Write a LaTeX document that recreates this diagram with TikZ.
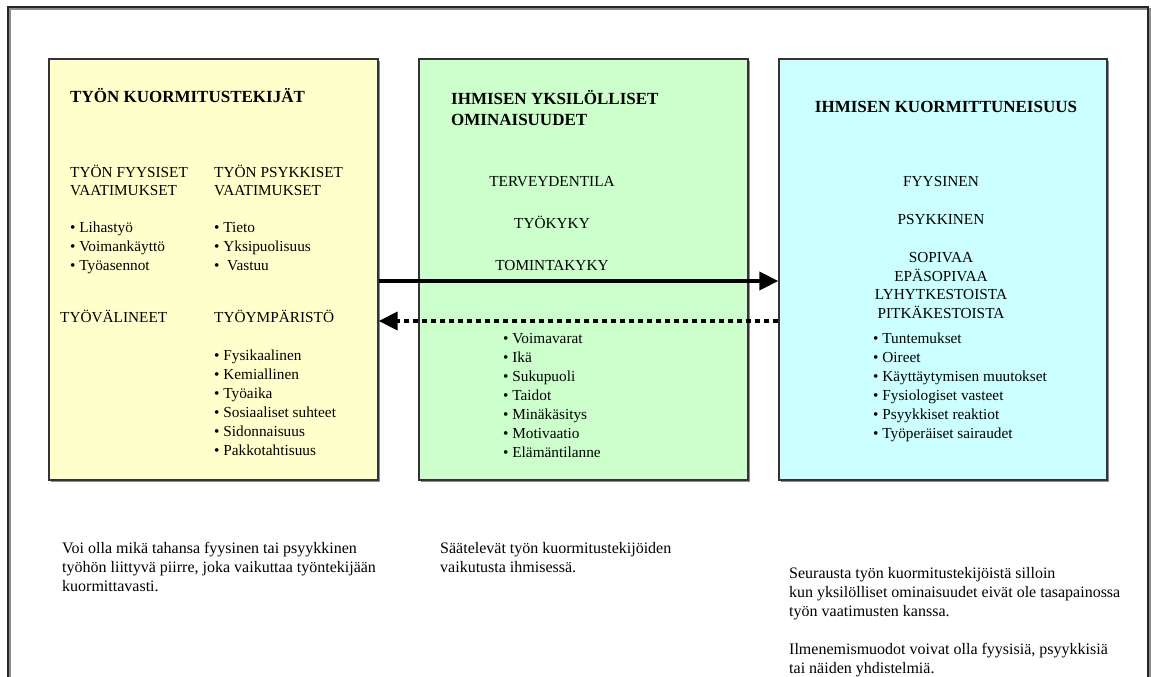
\documentclass[tikz,border=0pt]{standalone}
\usepackage{fontspec}
\setmainfont{Liberation Serif}
\usetikzlibrary{arrows.meta,shadows}

\definecolor{keltainen}{HTML}{FFFFCC}
\definecolor{vihrea}{HTML}{CCFFCC}
\definecolor{syaani}{HTML}{CCFFFF}

\begin{document}
\begin{tikzpicture}[x=1pt,y=-1pt,
    box/.style={draw=black!80, line width=1.3pt, inner sep=0pt,
        minimum width=329pt, minimum height=421pt,
        drop shadow={shadow xshift=1.8pt, shadow yshift=-1.8pt, fill=black!45, opacity=1}},
    otsikko/.style={font=\fontsize{17}{20}\selectfont\bfseries, inner sep=0pt, anchor=base west},
    teksti/.style={font=\fontsize{15.3}{18}\selectfont, inner sep=0pt, anchor=base west},
    keski/.style={teksti, anchor=base},
    selite/.style={font=\fontsize{16}{19}\selectfont, inner sep=0pt, anchor=base west},
    nuoli/.style={line width=3.5pt, -{Triangle[length=19pt,width=18pt]}}
]
\useasboundingbox (0,0) rectangle (1151,677);

% Frame
\draw[black!45, line width=1.5pt] (9.8,677) |- (1149.8,8.8) -- (1149.8,677);
\draw[black!85, line width=1.5pt] (8,677) |- (1148,7) -- (1148,677);

% Boxes
\node[box, fill=keltainen] (kuormitus) at (213.5,269.5) {};
\node[box, fill=vihrea] (yksilo) at (583.5,269.5) {};
\node[box, fill=syaani, minimum width=328pt] (kuormittuneisuus) at (943,269.5) {};

% Tyon kuormitustekijat
\node[otsikko] (kuorm-otsikko) at (70,102) {TYÖN KUORMITUSTEKIJÄT};
\node[teksti] (fyys-1) at (70,177) {TYÖN FYYSISET};
\node[teksti] (fyys-2) at (70,195) {VAATIMUKSET};
\node[teksti] (psyk-1) at (214,177) {TYÖN PSYKKISET};
\node[teksti] (psyk-2) at (214,195) {VAATIMUKSET};
\foreach \txt [count=\i] in {Lihastyö, Voimankäyttö, Työasennot}
{
    \node[teksti] (fyysb-\i) at (70,{213+19*\i}) {• \txt};
}
\foreach \txt [count=\i] in {Tieto, Yksipuolisuus, {\ Vastuu}}
{
    \node[teksti] (psykb-\i) at (214,{213+19*\i}) {• \txt};
}
\node[teksti] (valineet) at (60,322) {TYÖVÄLINEET};
\node[teksti] (ymparisto) at (214,322) {TYÖYMPÄRISTÖ};
\foreach \txt [count=\i] in {Fysikaalinen, Kemiallinen, Työaika,
    Sosiaaliset suhteet, Sidonnaisuus, Pakkotahtisuus}
{
    \node[teksti] (ympb-\i) at (214,{341+19*\i}) {• \txt};
}

% Ihmisen yksilolliset ominaisuudet
\node[otsikko] (yks-otsikko-1) at (451,104) {IHMISEN YKSILÖLLISET};
\node[otsikko] (yks-otsikko-2) at (451,125) {OMINAISUUDET};
\node[keski] (terveys) at (552,186) {TERVEYDENTILA};
\node[keski] (tyokyky) at (552,228) {TYÖKYKY};
\node[keski] (toiminta) at (552,270) {TOMINTAKYKY};
\foreach \txt [count=\i] in {Voimavarat, Ikä, Sukupuoli, Taidot,
    Minäkäsitys, Motivaatio, Elämäntilanne}
{
    \node[teksti] (yksb-\i) at (503,{324+19*\i}) {• \txt};
}

% Ihmisen kuormittuneisuus
\node[otsikko, anchor=base] (kt-otsikko) at (946,112) {IHMISEN KUORMITTUNEISUUS};
\node[keski] (fyysinen) at (941,186) {FYYSINEN};
\node[keski] (psykkinen) at (941,224) {PSYKKINEN};
\node[keski] (sopivaa) at (941,262) {SOPIVAA};
\node[keski] (epasopivaa) at (941,281) {EPÄSOPIVAA};
\node[keski] (lyhyt) at (941,299) {LYHYTKESTOISTA};
\node[keski] (pitka) at (941,318) {PITKÄKESTOISTA};
\foreach \txt [count=\i] in {Tuntemukset, Oireet, Käyttäytymisen muutokset,
    Fysiologiset vasteet, Psyykkiset reaktiot, Työperäiset sairaudet}
{
    \node[teksti] (ktb-\i) at (873,{324+19*\i}) {• \txt};
}

% Arrows
\draw[nuoli] ([yshift=-11.5pt]kuormitus.east) -- ([yshift=-11.5pt]kuormittuneisuus.west);
\draw[nuoli, dash pattern=on 5pt off 4pt] ([yshift=-51.5pt]kuormittuneisuus.west)
    -- ([yshift=-51.5pt]kuormitus.east);

% Explanations
\node[selite] (selite-1a) at (62,553) {Voi olla mikä tahansa fyysinen tai psyykkinen};
\node[selite] (selite-1b) at (62,572) {työhön liittyvä piirre, joka vaikuttaa työntekijään};
\node[selite] (selite-1c) at (62,591) {kuormittavasti.};
\node[selite] (selite-2a) at (440,553) {Säätelevät työn kuormitustekijöiden};
\node[selite] (selite-2b) at (440,572) {vaikutusta ihmisessä.};
\node[selite] (selite-3a) at (789,578) {Seurausta työn kuormitustekijöistä silloin};
\node[selite] (selite-3b) at (789,597) {kun yksilölliset ominaisuudet eivät ole tasapainossa};
\node[selite] (selite-3c) at (789,616) {työn vaatimusten kanssa.};
\node[selite] (selite-3d) at (789,654) {Ilmenemismuodot voivat olla fyysisiä, psyykkisiä};
\node[selite] (selite-3e) at (789,673) {tai näiden yhdistelmiä.};

\end{tikzpicture}
\end{document}
